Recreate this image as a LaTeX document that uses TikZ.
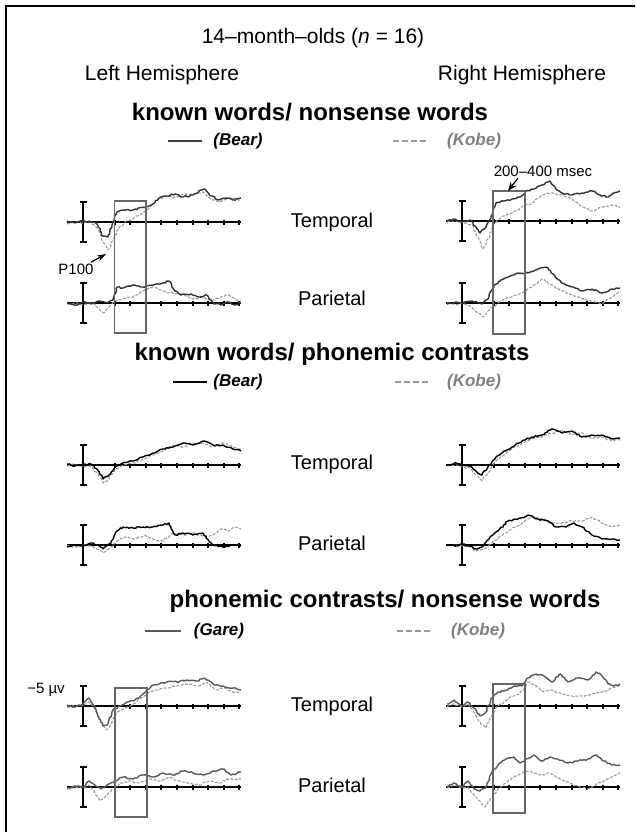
\documentclass[tikz,border=0pt]{standalone}
\usepackage{fontspec}
\setmainfont{Liberation Sans}
\usetikzlibrary{arrows.meta,decorations.pathmorphing}

\tikzset{
  axisline/.style={line width=2pt, black},
  scalebar/.style={line width=1.8pt, black},
  erpsolid/.style={line width=1.4pt, line join=round, decorate,
    decoration={random steps, segment length=2pt, amplitude=0.8pt}},
  erpdashed/.style={erpsolid, line width=1.1pt, black!40, dash pattern=on 3pt off 1.5pt},
  keydash/.style={line width=2.2pt, black!40, dash pattern=on 6pt off 3pt},
  winbox/.style={draw=black!60, line width=1.2pt},
  lbl/.style={font=\fontsize{20}{24}\selectfont},
  head/.style={font=\bfseries\fontsize{24}{28}\selectfont},
  legend/.style={font=\bfseries\itshape\fontsize{17}{20}\selectfont},
  small/.style={font=\fontsize{15}{18}\selectfont}
}

% baseline, ticks and scale bar of one ERP panel
\newcommand{\erpaxes}[2]{%
  \begin{scope}[shift={(#1,#2)}]
    \draw[axisline] (-16,0) -- (158,0);
    \foreach \k in {0,...,8} \draw[axisline] (31.5+15.6*\k,-2.5) -- (31.5+15.6*\k,2.5);
    \draw[scalebar] (-3.5,-20) -- (3.5,-20) (0,-20) -- (0,20) (-3.5,20) -- (3.5,20);
  \end{scope}}
% one trace, y counted upwards from the baseline
\newcommand{\erptrace}[4]{%
  \draw[#3, shift={(#1,#2)}, yscale=-1] plot coordinates {#4};}

\begin{document}
\begin{tikzpicture}[x=1pt, y=-1pt]
\pgfmathsetseed{7}
\useasboundingbox (0,0) rectangle (635,832);
\draw[line width=2.5pt] (6,832) -- (6,6) -- (635,6);

\node (title) at (313,38) [lbl, font=\fontsize{21}{24}\selectfont] {14–month–olds (\textit{n} = 16)};
\node (lefthemi) at (162,75) [lbl, font=\fontsize{21}{24}\selectfont] {Left Hemisphere};
\node (righthemi) at (522,75) [lbl, font=\fontsize{21}{24}\selectfont] {Right Hemisphere};

% known words / nonsense words
\node (head1) at (310,112) [head] {known words/ nonsense words};
\draw[line width=2pt, black!75] (168,141) -- (202,141);
\node (bear1) at (238,141) [legend] {(Bear)};
\draw[keydash] (393,141) -- (429,141);
\node (kobe1) at (474,141) [legend, text=black!50] {(Kobe)};

\erpaxes{83}{222}
\erpaxes{83}{303}
\erpaxes{462}{221}
\erpaxes{462}{303}
\erptrace{83}{222}{erpdashed}{(-16,-2) (-8,0) (0,-1) (8,0) (14,-6) (20,-20) (25,-28) (30,-18) (36,-6) (42,0) (50,3) (58,8) (66,14) (74,22) (82,26) (90,24) (100,28) (110,28) (120,30) (128,22) (136,20) (146,24) (158,22)}
\erptrace{83}{222}{erpsolid, black!80}{(-16,1) (-8,-1) (0,1) (8,0) (14,-2) (20,-14) (25,-15) (30,0) (34,10) (40,12) (50,12) (63,15) (70,18) (76,24) (84,26) (92,28) (100,25) (110,27) (118,32) (122,33) (128,26) (136,22) (144,24) (150,22) (158,24)}
\erptrace{83}{303}{erpdashed}{(-16,-1) (-6,0) (0,-2) (8,0) (14,-4) (20,-10) (26,-4) (32,2) (40,4) (50,6) (60,12) (70,16) (80,12) (90,10) (100,8) (110,4) (120,6) (128,2) (138,6) (146,8) (152,4) (158,2)}
\erptrace{83}{303}{erpsolid, black!80}{(-16,0) (-6,-2) (0,1) (8,-1) (16,2) (24,0) (30,3) (34,16) (40,15) (50,18) (60,16) (70,18) (80,20) (86,22) (92,12) (98,8) (108,9) (116,6) (124,8) (130,0) (138,-2) (146,1) (152,-2) (158,0)}
\erptrace{462}{221}{erpdashed}{(-15,-1) (-6,0) (2,-2) (10,-4) (16,-16) (21,-28) (26,-18) (32,-2) (40,4) (50,8) (60,14) (70,18) (80,26) (90,28) (100,26) (110,22) (120,14) (130,10) (140,14) (150,16) (158,14)}
\erptrace{462}{221}{erpsolid, black!80}{(-15,0) (-8,2) (0,-1) (8,1) (14,-6) (18,-12) (24,-6) (30,6) (34,18) (42,20) (50,22) (58,24) (64,30) (72,32) (80,36) (88,40) (94,32) (100,28) (110,26) (120,28) (130,30) (138,26) (146,24) (152,28) (158,30)}
\erptrace{462}{303}{erpdashed}{(-15,0) (-6,-2) (0,0) (10,-4) (16,-10) (22,-14) (28,-6) (36,0) (44,4) (54,8) (64,12) (72,18) (80,24) (90,18) (100,12) (110,8) (120,4) (130,2) (140,-1) (150,6) (158,12)}
\erptrace{462}{303}{erpsolid, black!80}{(-15,-1) (-6,1) (0,0) (10,2) (20,-1) (26,4) (32,18) (38,22) (46,26) (56,30) (66,30) (76,34) (84,36) (92,28) (100,20) (110,16) (120,12) (130,14) (140,10) (150,14) (158,15)}
\draw[winbox] (114.5,201) rectangle (146,333);
\draw[winbox] (493,191) rectangle (525,334);

\node (temporal1) at (332,222) [lbl] {Temporal};
\node (parietal1) at (332,298) [lbl] {Parietal};
\node (p100) at (76,269) [small] {P100};
\coordinate (p100tip) at (106,254);
\draw[-{Stealth[length=9pt,width=6pt]}, line width=1.2pt] (p100.north east) ++(-6,2) -- (p100tip);
\node (window) at (543,171) [small] {200–400 msec};
\coordinate (windowtip) at (508,191);
\draw[-{Stealth[length=9pt,width=7pt]}, line width=1.2pt] (518,178) -- (windowtip);

% known words / phonemic contrasts
\node (head2) at (332,354) [head] {known words/ phonemic contrasts};
\draw[line width=2pt, black] (173,382) -- (207,382);
\node (bear2) at (238,382) [legend] {(Bear)};
\draw[keydash] (395,382) -- (431,382);
\node (kobe2) at (474,382) [legend, text=black!50] {(Kobe)};

\erpaxes{83}{465}
\erpaxes{83}{545}
\erpaxes{462}{465}
\erpaxes{462}{545}
\erptrace{83}{465}{erpdashed}{(-16,-1) (-8,1) (0,-2) (8,-1) (14,-8) (20,-18) (26,-14) (32,-4) (40,0) (50,2) (60,6) (70,10) (80,14) (90,20) (100,18) (110,22) (120,22) (130,18) (140,22) (150,18) (158,16)}
\erptrace{83}{465}{erpsolid, black}{(-16,1) (-8,-1) (0,0) (8,1) (14,-4) (20,-14) (26,-10) (32,-2) (40,2) (50,4) (60,8) (70,12) (80,16) (90,18) (100,22) (110,20) (120,24) (130,20) (140,20) (150,16) (158,14)}
\erptrace{83}{545}{erpdashed}{(-16,0) (-8,-2) (0,0) (8,-1) (14,-4) (20,-8) (28,-2) (34,4) (42,8) (52,6) (62,10) (72,5) (80,4) (90,12) (100,10) (110,12) (120,9) (130,10) (138,16) (146,14) (152,18) (158,16)}
\erptrace{83}{545}{erpsolid, black}{(-16,-2) (-8,0) (0,-1) (8,2) (14,0) (20,-4) (28,2) (34,14) (40,18) (50,17) (60,18) (70,18) (80,20) (86,22) (92,10) (100,12) (110,10) (120,12) (126,4) (130,0) (140,-2) (150,0) (158,-1)}
\erptrace{462}{465}{erpdashed}{(-15,-1) (-6,0) (0,-2) (8,-3) (14,-10) (20,-16) (26,-8) (34,4) (42,10) (50,16) (60,22) (70,26) (80,28) (90,32) (100,34) (110,30) (120,32) (130,26) (140,28) (150,24) (158,25)}
\erptrace{462}{465}{erpsolid, black}{(-15,0) (-6,2) (0,0) (8,-1) (14,-6) (20,-10) (26,-2) (34,8) (42,14) (50,18) (60,24) (70,28) (80,30) (90,36) (100,32) (110,34) (120,28) (130,30) (140,30) (150,26) (158,27)}
\erptrace{462}{545}{erpdashed}{(-15,-1) (-6,0) (0,-1) (8,-2) (14,-6) (22,-4) (30,2) (40,10) (50,16) (60,22) (70,28) (80,26) (90,22) (100,22) (110,24) (120,24) (130,28) (140,22) (150,18) (158,20)}
\erptrace{462}{545}{erpsolid, black}{(-15,0) (-6,-1) (0,1) (8,-1) (14,-4) (20,-2) (28,8) (36,14) (46,24) (56,26) (66,30) (76,26) (86,24) (94,18) (104,18) (112,22) (120,18) (130,10) (140,6) (150,6) (158,5)}

\node (temporal2) at (332,464) [lbl] {Temporal};
\node (parietal2) at (332,543) [lbl] {Parietal};

% phonemic contrasts / nonsense words
\node (head3) at (385,601) [head] {phonemic contrasts/ nonsense words};
\draw[line width=2pt, black!65] (145,631) -- (181,631);
\node (gare3) at (219,631) [legend] {(Gare)};
\draw[keydash] (397,631) -- (433,631);
\node (kobe3) at (478,631) [legend, text=black!50] {(Kobe)};

\erpaxes{83}{706}
\erpaxes{83}{787}
\erpaxes{462}{706}
\erpaxes{462}{787}
\erptrace{83}{706}{erpdashed}{(-16,-1) (-8,0) (0,0) (6,4) (12,-4) (18,-16) (23,-24) (28,-18) (34,-6) (42,-2) (50,2) (58,8) (66,14) (74,16) (84,18) (94,20) (104,22) (114,20) (124,24) (132,16) (142,18) (150,14) (158,14)}
\erptrace{83}{706}{erpsolid, black!65}{(-16,1) (-8,-1) (0,2) (6,8) (12,0) (16,-12) (20,-20) (25,-18) (30,-4) (36,0) (44,4) (52,6) (60,12) (68,20) (76,22) (84,24) (94,24) (104,26) (114,25) (122,28) (130,22) (140,20) (150,18) (158,16)}
\erptrace{83}{787}{erpdashed}{(-16,-2) (-8,0) (0,-1) (6,2) (12,-6) (17,-14) (22,-10) (30,-2) (38,4) (46,6) (56,4) (66,8) (76,6) (86,10) (96,6) (106,4) (116,2) (126,6) (136,4) (146,8) (158,8)}
\erptrace{83}{787}{erpsolid, black!65}{(-16,-1) (-8,1) (0,0) (6,6) (12,2) (18,-2) (24,2) (32,6) (40,10) (50,8) (60,12) (70,10) (80,14) (90,12) (100,16) (110,14) (120,12) (130,16) (140,18) (148,12) (158,15)}
\erptrace{462}{706}{erpdashed}{(-15,0) (-8,2) (0,-1) (6,2) (12,-6) (18,-16) (23,-22) (28,-12) (34,-2) (42,4) (50,10) (58,12) (66,24) (74,20) (82,14) (90,16) (100,12) (110,10) (120,10) (130,12) (140,14) (150,18) (158,20)}
\erptrace{462}{706}{erpsolid, black!65}{(-15,2) (-8,6) (0,0) (6,4) (12,-2) (18,-10) (24,-6) (30,8) (36,14) (44,16) (52,20) (60,20) (66,28) (74,32) (82,30) (90,24) (98,32) (106,24) (116,28) (126,26) (134,34) (140,30) (146,22) (152,20) (158,22)}
\erptrace{462}{787}{erpdashed}{(-15,-1) (-8,2) (0,-1) (6,0) (12,-8) (18,-14) (23,-20) (30,-10) (36,-2) (44,4) (52,10) (60,14) (68,16) (78,12) (88,14) (98,8) (108,4) (118,0) (126,-2) (134,2) (142,6) (150,10) (158,14)}
\erptrace{462}{787}{erpsolid, black!65}{(-15,0) (-8,4) (0,0) (6,6) (12,-2) (18,-4) (24,0) (30,16) (36,22) (44,28) (52,30) (58,24) (64,28) (72,32) (80,26) (88,30) (96,28) (106,24) (116,26) (126,28) (134,32) (142,26) (150,22) (158,22)}
\draw[winbox] (115,688) rectangle (147,817);
\draw[winbox] (493,684) rectangle (525,813);

\node (temporal3) at (332,706) [lbl] {Temporal};
\node (parietal3) at (332,785) [lbl] {Parietal};
\node (microvolt) at (46,690) [small] {−5 µv};
\end{tikzpicture}
\end{document}
